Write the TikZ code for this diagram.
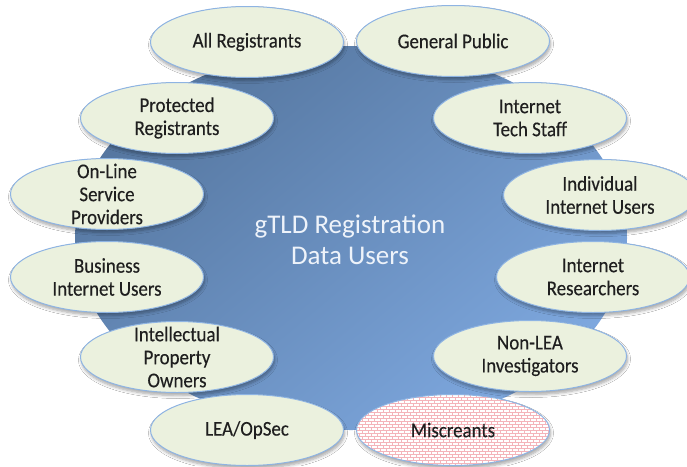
\documentclass[tikz,border=0pt]{standalone}
\usepackage{fontspec}
\setmainfont{Carlito}
\newfontfamily\lblfont{Carlito}[FakeStretch=0.9, FakeBold=0.3]
\usetikzlibrary{shapes.geometric,shadows,shadows.blur,calc}
\definecolor{ellfill}{HTML}{EBF1DE}
\definecolor{ellline}{HTML}{8EB4E3}
\definecolor{bluedark}{HTML}{55769F}
\definecolor{bluelight}{HTML}{7EA8DF}
\definecolor{brickcol}{HTML}{F4B4BA}
\definecolor{centertext}{HTML}{EEF3FA}
\begin{document}
\begin{tikzpicture}[x=1pt,y=-1pt,
  user/.style={ellipse, draw=ellline, line width=1pt, fill=ellfill,
    minimum width=193pt, minimum height=71pt, inner sep=0pt,
    blur shadow={shadow xshift=1pt, shadow yshift=-3pt, shadow blur steps=6, shadow blur radius=3pt, shadow opacity=35}},
  lbl/.style={align=center, inner sep=0pt, font=\lblfont\fontsize{21}{23}\selectfont, text=black!88},
  brickline/.style={draw=brickcol, line width=0.5pt}
]
\useasboundingbox (0,0) rectangle (687,466);
\fill[white] (0,0) rectangle (687,466);
% central circle
\node[ellipse, minimum width=552pt, minimum height=384pt, inner sep=0pt,
  top color=bluedark, bottom color=bluelight, shading angle=40] (core) at (351,238) {};
\node[align=center, inner sep=0pt, font=\fontsize{27}{31}\selectfont, text=centertext] (coretext) at (350,240) {gTLD Registration\\Data Users};
% user groups
\node[user] (allreg) at (247,42) {};
\node[lbl] (allregt) at (allreg) {All Registrants};
\node[user] (pub) at (453,41) {};
\node[lbl] (pubt) at (pub) {General Public};
\node[user] (prot) at (177,118) {};
\node[lbl] (prott) at (prot) {Protected\\Registrants};
\node[user] (tech) at (530,118) {};
\node[lbl] (techt) at (tech) {Internet\\Tech Staff};
\node[user] (osp) at (107,194) {};
\node[lbl] (ospt) at (osp) {On-Line\\Service\\Providers};
\node[user] (indiv) at (600,195) {};
\node[lbl] (indivt) at (indiv) {Individual\\Internet Users};
\node[user] (biz) at (107,277) {};
\node[lbl] (bizt) at (biz) {Business\\Internet Users};
\node[user] (res) at (593,277) {};
\node[lbl] (rest) at (res) {Internet\\Researchers};
\node[user] (ip) at (177,357) {};
\node[lbl] (ipt) at (ip) {Intellectual\\Property\\Owners};
\node[user] (nonlea) at (530,356) {};
\node[lbl] (nonleat) at (nonlea) {Non-LEA\\Investigators};
\node[user] (lea) at (247,430) {};
\node[lbl] (leat) at (lea) {LEA/OpSec};
\node[user, fill=white, path picture={
    \foreach \k in {0,...,25}{
      \draw[brickline] ($(path picture bounding box.north west)+(0,\k*3)$) -- ++(200,0);
      \pgfmathsetmacro{\off}{mod(\k,2)*3}
      \foreach \j in {0,...,33}{
        \draw[brickline] ($(path picture bounding box.north west)+(\j*6+\off,\k*3)$) -- ++(0,3);
      }
    }
  }] (misc) at (453,430) {};
\node[lbl] (misct) at (misc) {Miscreants};
\end{tikzpicture}
\end{document}
